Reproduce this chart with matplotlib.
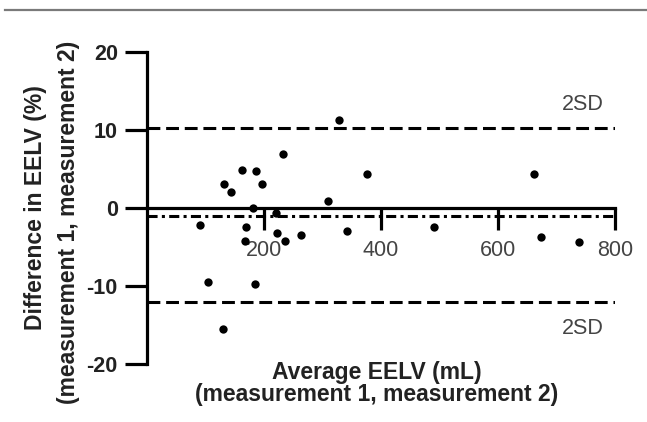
import numpy as np
import matplotlib
matplotlib.use("Agg")
import matplotlib.pyplot as plt
from matplotlib.lines import Line2D

plt.rcParams['font.family'] = ['Liberation Sans', 'DejaVu Sans']
plt.rcParams['axes.unicode_minus'] = False

# ==========================================
# DATA
# ==========================================

avg_eelv = [90, 104, 130, 132, 143, 162, 167, 169, 182, 185, 186, 196,
            220, 223, 233, 236, 263, 310, 328, 342, 376, 491, 661, 674, 739]
diff_eelv = [-2.2, -9.5, -15.5, 3.1, 2.0, 4.9, -4.2, -2.4, 0.0, -9.7, 4.7, 3.1,
             -0.6, -3.2, 6.9, -4.2, -3.5, 0.9, 11.3, -2.9, 4.3, -2.4, 4.4, -3.7, -4.4]

mean_diff = -1.0
upper_sd = 10.2
lower_sd = -12.1

x_ticks = [200, 400, 600, 800]
y_ticks = [-20, -10, 0, 10, 20]

# ==========================================
# FIGURE
# ==========================================

fig = plt.figure(figsize=(6.47, 4.22), dpi=100)
ax = fig.add_axes([147/647, 58/422, 468/647, 312/422])

ax.scatter(avg_eelv, diff_eelv, s=36, color='black', zorder=3, linewidths=0)

ax.axhline(upper_sd, color='black', lw=2.2, dashes=(4.2, 1.9))
ax.axhline(lower_sd, color='black', lw=2.2, dashes=(4.2, 1.9))
ax.axhline(mean_diff, color='black', lw=2.2, dashes=(3.3, 1.4, 1.0, 1.4))

ax.set_xlim(0, 800)
ax.set_ylim(-20, 20)

ax.spines['right'].set_visible(False)
ax.spines['top'].set_visible(False)
ax.spines['bottom'].set_position(('data', 0))
ax.spines['left'].set_linewidth(2.3)
ax.spines['bottom'].set_linewidth(2.3)

ax.set_xticks(x_ticks)
ax.set_yticks(y_ticks)
ax.tick_params(axis='x', direction='out', length=16, width=2.3, pad=7,
               labelsize=15.5, labelcolor='#444444')
ax.tick_params(axis='y', direction='out', length=16, width=2.3, pad=5,
               labelsize=15.5, labelcolor='#222222')
for lbl in ax.get_yticklabels():
    lbl.set_fontweight('bold')

# 2SD labels
ax.text(745, upper_sd + 1.7, "2SD", ha='center', va='bottom',
        fontsize=15.5, color='#444444')
ax.text(745, lower_sd - 2.0, "2SD", ha='center', va='top',
        fontsize=15.5, color='#444444')

# axis labels
lab = dict(fontsize=16.5, fontweight='bold', color='#222222')
fig.text(377/647, 1 - 372/422, "Average EELV (mL)", ha='center', va='center', **lab)
fig.text(377/647, 1 - 394/422, "(measurement 1, measurement 2)", ha='center',
         va='center', **lab)
fig.text(36/647, 1 - 208/422, "Difference in EELV (%)", ha='center', va='center',
         rotation=90, **lab)
fig.text(69/647, 1 - 222/422, "(measurement 1, measurement 2)", ha='center',
         va='center', rotation=90, **lab)

# header rule
fig.add_artist(Line2D([5/647, 1], [1 - 10/422, 1 - 10/422],
                      transform=fig.transFigure, color='#7a7a7a', lw=1.6))

fig.savefig("out.png", dpi=100)
